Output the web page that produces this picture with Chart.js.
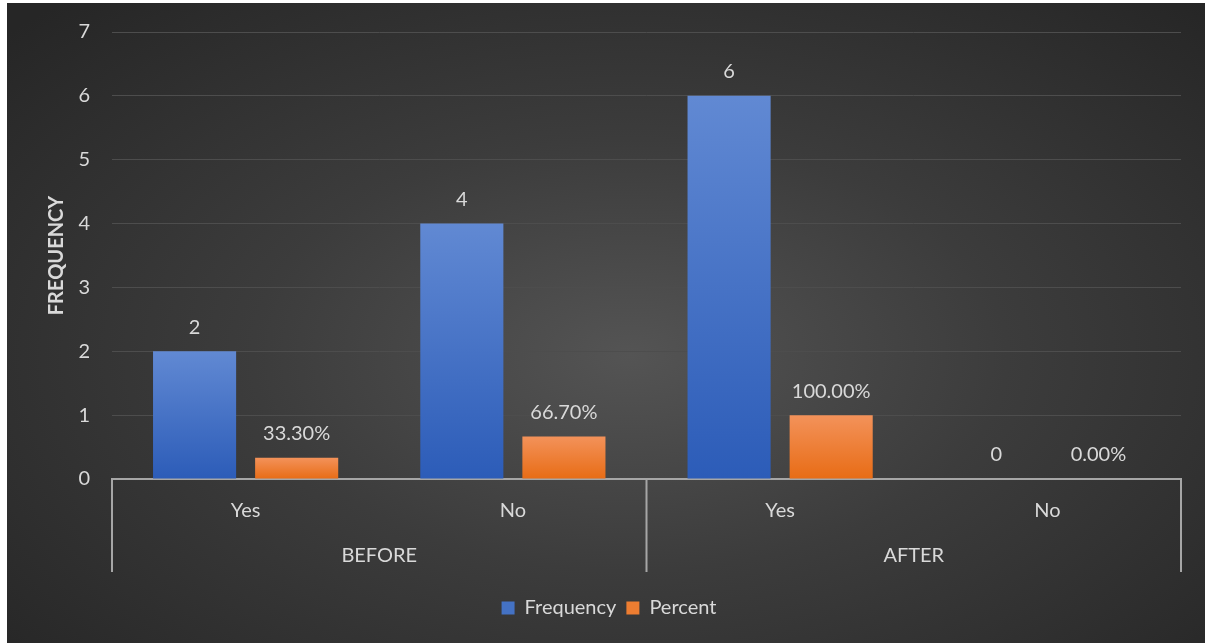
<!DOCTYPE html>
<html>
<head>
<meta charset="utf-8">
<script src="https://cdn.jsdelivr.net/npm/chart.js@4"></script>
<style>
  html, body { margin: 0; padding: 0; background: #fff; }
  #wrap {
    position: absolute; left: 7px; top: 3px; width: 1198px; height: 640px;
    background: radial-gradient(ellipse 70% 75% at 52% 55%, #545454 0%, #3c3c3c 45%, #262626 100%);
  }
  canvas { display: block; }
</style>
</head>
<body>
<div id="wrap"><canvas id="chart" width="1198" height="640"></canvas></div>
<script>
// data
var categories = ['Yes', 'No', 'Yes', 'No'];
var groups = ['BEFORE', 'AFTER'];
var frequency = [2, 4, 6, 0];
var percent = [0.333, 0.667, 1, 0];
var yTicks = [0, 1, 2, 3, 4, 5, 6, 7];

var textColor = '#d9d9d9';
var fontName = 'Lato, "Open Sans", sans-serif';

// vertical gradient per bar, top lighter
function barGradient(top, bottom) {
  return function (ctx) {
    var chart = ctx.chart;
    if (!chart.chartArea || ctx.type !== 'data') return bottom;
    var y = chart.scales.y;
    var y0 = y.getPixelForValue(0);
    var y1 = y.getPixelForValue(ctx.raw);
    if (y0 - y1 < 1) return bottom;
    var g = chart.ctx.createLinearGradient(0, y1, 0, y0);
    g.addColorStop(0, top);
    g.addColorStop(1, bottom);
    return g;
  };
}

// value labels above bars
var valueLabels = {
  id: 'valueLabels',
  afterDatasetsDraw: function (chart) {
    var ctx = chart.ctx;
    ctx.save();
    ctx.font = '20px ' + fontName;
    ctx.fillStyle = textColor;
    ctx.textAlign = 'center';
    ctx.textBaseline = 'middle';
    chart.data.datasets.forEach(function (ds, di) {
      chart.getDatasetMeta(di).data.forEach(function (el, i) {
        var v = ds.data[i];
        var txt = di === 0 ? String(v) : (v * 100).toFixed(2) + '%';
        ctx.fillText(txt, el.x, el.y - 24);
      });
    });
    ctx.restore();
  }
};

// second level of the category axis: group names and separators
var groupAxis = {
  id: 'groupAxis',
  afterDraw: function (chart) {
    var ctx = chart.ctx;
    var x = chart.scales.x;
    var area = chart.chartArea;
    var per = categories.length / groups.length;
    var edges = [area.left];
    for (var g = 1; g < groups.length; g++) {
      edges.push((x.getPixelForValue(g * per - 1) + x.getPixelForValue(g * per)) / 2);
    }
    edges.push(area.right);
    ctx.save();
    ctx.strokeStyle = '#a6a6a6';
    ctx.lineWidth = 2;
    edges.forEach(function (ex) {
      ctx.beginPath();
      ctx.moveTo(ex, area.bottom);
      ctx.lineTo(ex, area.bottom + 93);
      ctx.stroke();
    });
    ctx.font = '20px ' + fontName;
    ctx.fillStyle = textColor;
    ctx.textAlign = 'center';
    ctx.textBaseline = 'middle';
    groups.forEach(function (name, g) {
      ctx.fillText(name, (edges[g] + edges[g + 1]) / 2, area.bottom + 77);
    });
    ctx.restore();
  }
};

var chart = new Chart(document.getElementById('chart').getContext('2d'), {
  type: 'bar',
  data: {
    labels: categories,
    datasets: [{
      label: 'Frequency',
      data: frequency,
      backgroundColor: barGradient('#6189d3', '#2c5cb8'),
      categoryPercentage: 0.764,
      barPercentage: 0.814
    }, {
      label: 'Percent',
      data: percent,
      backgroundColor: barGradient('#f3925a', '#e86c15'),
      categoryPercentage: 0.764,
      barPercentage: 0.814
    }]
  },
  options: {
    responsive: false,
    animation: false,
    layout: { padding: { top: 29, left: 30, right: 24, bottom: 15 } },
    plugins: {
      tooltip: { enabled: false },
      legend: {
        position: 'bottom',
        labels: {
          color: textColor,
          font: { family: fontName, size: 20 },
          boxWidth: 13,
          boxHeight: 13,
          padding: 10,
          generateLabels: function (chart) {
            var fills = ['#4472c4', '#ed7d31'];
            return chart.data.datasets.map(function (ds, i) {
              return { text: ds.label, fillStyle: fills[i], strokeStyle: fills[i], lineWidth: 0, datasetIndex: i, fontColor: textColor };
            });
          }
        }
      }
    },
    scales: {
      x: {
        grid: { display: false, drawTicks: false },
        border: { color: '#a6a6a6', width: 2 },
        ticks: { color: textColor, font: { family: fontName, size: 20 }, padding: 20 },
        afterFit: function (scale) { scale.height = 109; }
      },
      y: {
        min: 0,
        max: 7,
        afterBuildTicks: function (scale) {
          scale.ticks = yTicks.map(function (v) { return { value: v }; });
        },
        grid: { color: '#4d4d4d', lineWidth: 1, drawTicks: false },
        border: { display: false },
        ticks: { color: textColor, font: { family: fontName, size: 20 }, padding: 22 },
        title: {
          display: true,
          text: 'FREQUENCY',
          color: textColor,
          font: { family: fontName, size: 20, weight: 'bold' },
          padding: { top: 8, bottom: 0 }
        },
        afterFit: function (scale) {
          scale.width = 75;
          scale.paddingTop = 0;
          scale.paddingBottom = 0;
        }
      }
    }
  },
  plugins: [valueLabels, groupAxis]
});
</script>
</body>
</html>
